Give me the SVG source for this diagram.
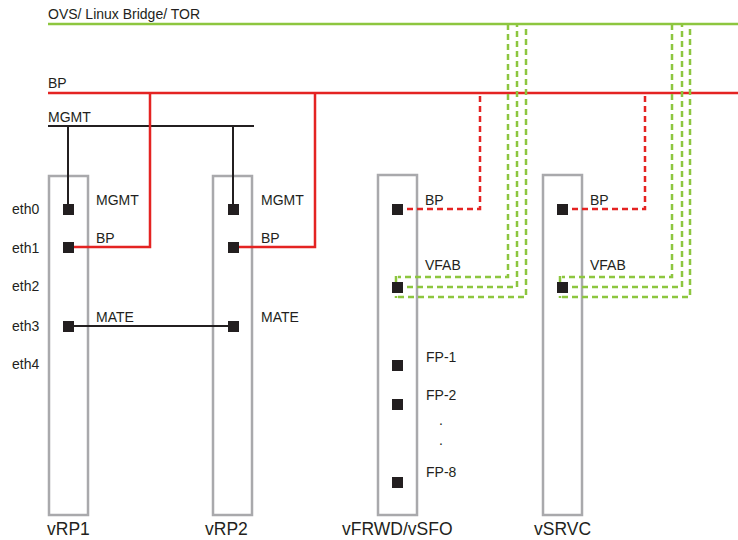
<svg xmlns="http://www.w3.org/2000/svg" width="738" height="540" viewBox="0 0 738 540">
<style>
text{font-family:"Liberation Sans",Arial,sans-serif;font-size:14px;fill:#231f20}
.big{font-size:17.5px}
.box{fill:none;stroke:#a9a9ac;stroke-width:2.5}
.port{fill:#231f20}
.g{fill:none;stroke:#8dc63f;stroke-width:2.5}
.gd{fill:none;stroke:#8dc63f;stroke-width:2.5;stroke-dasharray:6 4}
.r{fill:none;stroke:#e42322;stroke-width:2.5}
.rd{fill:none;stroke:#e42322;stroke-width:2.5;stroke-dasharray:6 4}
.k{fill:none;stroke:#231f20;stroke-width:2}
</style>
<rect width="738" height="540" fill="#fff"/>
<g id="buses">
<line class="g" x1="48" y1="24" x2="738" y2="24"/>
<text x="48" y="19">OVS/ Linux Bridge/ TOR</text>
<line class="r" x1="48" y1="93" x2="738" y2="93"/>
<text x="48" y="88">BP</text>
<line class="k" x1="48" y1="126" x2="254" y2="126"/>
<text x="48" y="122">MGMT</text>
</g>
<g id="vRP1">
<rect class="box" x="49" y="176" width="39" height="339"/>
<text x="12" y="214">eth0</text>
<text x="12" y="253">eth1</text>
<text x="12" y="291">eth2</text>
<text x="12" y="331">eth3</text>
<text x="12" y="369">eth4</text>
<text x="96" y="205">MGMT</text>
<text x="96" y="243">BP</text>
<text x="96" y="322">MATE</text>
<text class="big" x="47" y="535">vRP1</text>
</g>
<g id="vRP2">
<rect class="box" x="213" y="176" width="39" height="339"/>
<text x="261" y="205">MGMT</text>
<text x="261" y="243">BP</text>
<text x="261" y="322">MATE</text>
<text class="big" x="205" y="535">vRP2</text>
</g>
<g id="vFRWD">
<rect class="box" x="378" y="175" width="39" height="340"/>
<text x="425" y="205">BP</text>
<text x="425" y="270">VFAB</text>
<text x="426" y="362">FP-1</text>
<text x="426" y="400">FP-2</text>
<text x="439" y="425">.</text>
<text x="439" y="445">.</text>
<text x="426" y="477">FP-8</text>
<text class="big" x="342" y="535">vFRWD/vSFO</text>
</g>
<g id="vSRVC">
<rect class="box" x="543" y="175" width="39" height="340"/>
<text x="590" y="205">BP</text>
<text x="590" y="270">VFAB</text>
<text class="big" x="534" y="535">vSRVC</text>
</g>
<g id="connectors">
<polyline class="k" points="68,126 68,209"/>
<polyline class="k" points="233,126 233,209"/>
<polyline class="k" points="69,326 233,326"/>
<polyline class="r" points="69,247 150,247 150,93"/>
<polyline class="r" points="233,247 315,247 315,93"/>
<polyline class="rd" points="397,209 480,209 480,93"/>
<polyline class="rd" points="562,209 645,209 645,93"/>
<polyline class="gd" points="508,24 508,277 398,277"/>
<polyline class="gd" points="396,276 396,298"/>
<polyline class="gd" points="398,297 526,297 526,24"/>
<polyline class="gd" points="397,287 517,287 517,24"/>
<polyline class="gd" points="672,24 672,277 562,277"/>
<polyline class="gd" points="560,276 560,298"/>
<polyline class="gd" points="562,297 690,297 690,24"/>
<polyline class="gd" points="562,287 682,287 682,24"/>
</g>
<g id="ports">
<rect class="port" x="63" y="204" width="11" height="11"/>
<rect class="port" x="63" y="242" width="11" height="11"/>
<rect class="port" x="63" y="321" width="11" height="11"/>
<rect class="port" x="228" y="204" width="11" height="11"/>
<rect class="port" x="228" y="242" width="11" height="11"/>
<rect class="port" x="228" y="321" width="11" height="11"/>
<rect class="port" x="392" y="204" width="11" height="11"/>
<rect class="port" x="392" y="282" width="11" height="11"/>
<rect class="port" x="392" y="360" width="11" height="11"/>
<rect class="port" x="392" y="399" width="11" height="11"/>
<rect class="port" x="392" y="477" width="11" height="11"/>
<rect class="port" x="557" y="204" width="11" height="11"/>
<rect class="port" x="557" y="282" width="11" height="11"/>
</g>
</svg>
